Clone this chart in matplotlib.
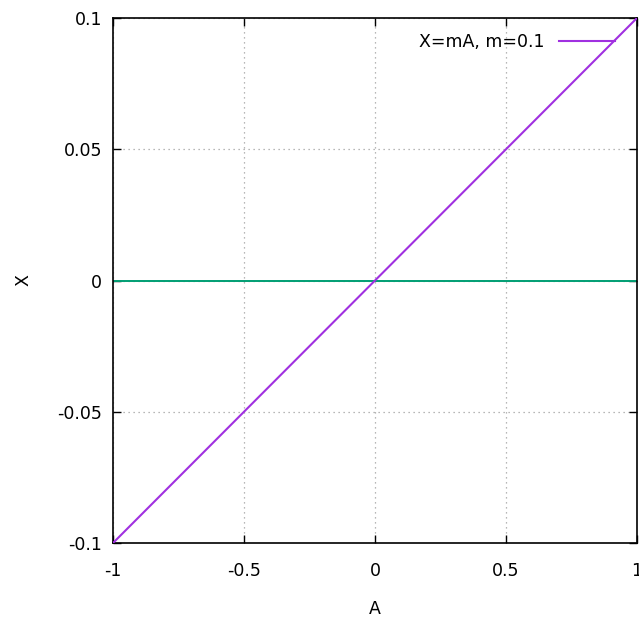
import matplotlib.pyplot as plt

# line X = m*A with m = 0.1, sampled at its end points and origin
a_vals = [-1.0, 0.0, 1.0]
x_vals = [-0.1, 0.0, 0.1]
zero_a = [-1.0, 1.0]
zero_x = [0.0, 0.0]

xticks = [-1, -0.5, 0, 0.5, 1]
xtick_labels = ['-1', '-0.5', '0', '0.5', '1']
yticks = [-0.1, -0.05, 0, 0.05, 0.1]
ytick_labels = ['-0.1', '-0.05', '0', '0.05', '0.1']

plt.rcParams['font.family'] = ['DejaVu Sans']
fs = 12.5

fig = plt.figure(figsize=(6.39, 6.19), dpi=100)
ax = fig.add_axes([113 / 639, 76 / 619, 524 / 639, 525 / 619])

ax.plot(a_vals, x_vals, color='#a030e0', lw=1.5, label='X=mA, m=0.1', zorder=3)
ax.plot(zero_a, zero_x, color='#009e73', lw=1.4, zorder=2)

ax.set_xlim(-1, 1)
ax.set_ylim(-0.1, 0.1)
ax.set_xticks(xticks)
ax.set_xticklabels(xtick_labels)
ax.set_yticks(yticks)
ax.set_yticklabels(ytick_labels)
ax.tick_params(direction='in', length=6, width=1, top=True, right=True,
               labelsize=fs, colors='black')
ax.tick_params(axis='x', pad=14)
ax.tick_params(axis='y', pad=8)
ax.grid(True, color='#a0a0a0', linestyle=(0, (1, 3)), lw=0.9)
for s in ax.spines.values():
    s.set_linewidth(1.2)

ax.set_xlabel('A', fontsize=fs, labelpad=14)
ax.set_ylabel('X', fontsize=fs, labelpad=18)

ax.legend(loc='upper right', frameon=False, markerfirst=False, fontsize=fs,
          handlelength=3.2, handletextpad=0.85, borderaxespad=0, borderpad=0,
          bbox_to_anchor=(0.958, 0.972))

fig.savefig('out.png', dpi=100)
